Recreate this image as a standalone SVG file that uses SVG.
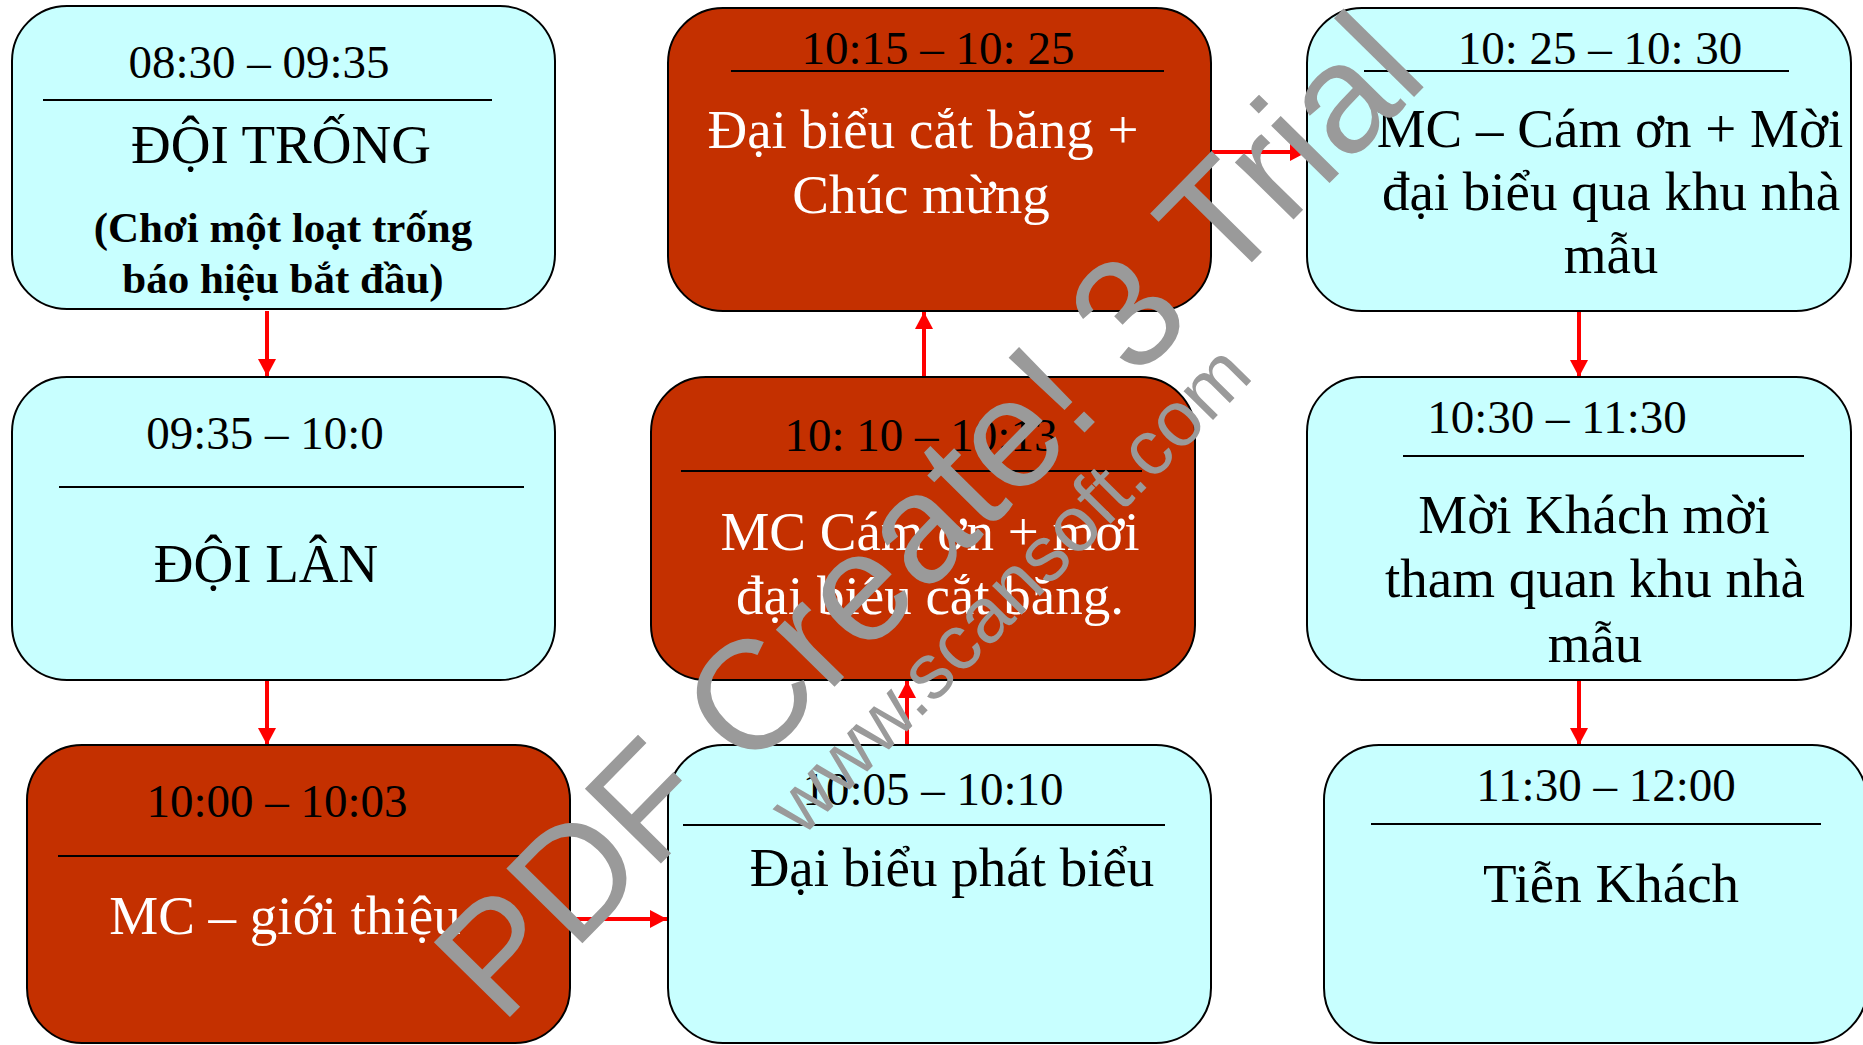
<svg xmlns="http://www.w3.org/2000/svg" width="1863" height="1045" viewBox="0 0 1863 1045">
<style>
.cy{fill:#C8FFFF;stroke:#000;stroke-width:2}
.rd{fill:#C43000;stroke:#000;stroke-width:2}
.rule{stroke:#000;stroke-width:2}
.t{font-family:"Liberation Serif","Times New Roman",serif;text-anchor:middle}
.tm{font-size:47px;fill:#000}
.bd{font-size:55px;fill:#000}
.bw{font-size:55px;fill:#fff}
.bb{font-size:43px;font-weight:bold;fill:#000}
.cn{stroke:#FF0000;stroke-width:4;fill:none;marker-end:url(#ah)}
.wm{font-family:"Liberation Sans",Arial,sans-serif;fill:#9A9A9A}
</style>
<defs>
<marker id="ah" markerUnits="userSpaceOnUse" markerWidth="18" markerHeight="18" refX="17" refY="9" orient="auto">
<path d="M0,0 L17,9 L0,18 Z" fill="#FF0000"/>
</marker>
</defs>
<rect width="1863" height="1045" fill="#fff"/>

<g id="connectors">
<line class="cn" x1="267" y1="311" x2="267" y2="376"/>
<line class="cn" x1="267" y1="681" x2="267" y2="745"/>
<line class="cn" x1="571" y1="919" x2="667" y2="919"/>
<line class="cn" x1="907" y1="745" x2="907" y2="681"/>
<line class="cn" x1="924" y1="376" x2="924" y2="312"/>
<line class="cn" x1="1211" y1="152" x2="1307" y2="152"/>
<line class="cn" x1="1579" y1="311" x2="1579" y2="377"/>
<line class="cn" x1="1579" y1="680" x2="1579" y2="745"/>
</g>

<g id="n1">
<rect class="cy" x="12" y="6" width="543" height="303" rx="55"/>
<text class="t tm" x="259" y="78">08:30 – 09:35</text>
<line class="rule" x1="43" y1="100" x2="492" y2="100"/>
<text class="t bd" x="281" y="163">ĐỘI TRỐNG</text>
<text class="t bb" x="283" y="242">(Chơi một loạt trống</text>
<text class="t bb" x="283" y="293">báo hiệu bắt đầu)</text>
</g>

<g id="n2">
<rect class="cy" x="12" y="377" width="543" height="303" rx="55"/>
<text class="t tm" x="265" y="449">09:35 – 10:0</text>
<line class="rule" x1="59" y1="487" x2="524" y2="487"/>
<text class="t bd" x="266" y="582">ĐỘI LÂN</text>
</g>

<g id="n3">
<rect class="rd" x="27" y="745" width="543" height="298" rx="55"/>
<text class="t tm" x="277" y="817">10:00 – 10:03</text>
<line class="rule" x1="58" y1="856" x2="524" y2="856"/>
<text class="t bw" x="285" y="934">MC – giới thiệu</text>
</g>

<g id="n4">
<rect class="rd" x="668" y="8" width="543" height="303" rx="55"/>
<text class="t tm" x="938" y="64">10:15 – 10: 25</text>
<line class="rule" x1="731" y1="71" x2="1164" y2="71"/>
<text class="t bw" x="923" y="148">Đại biểu cắt băng +</text>
<text class="t bw" x="921" y="213">Chúc mừng</text>
</g>

<g id="n5">
<rect class="rd" x="651" y="377" width="544" height="303" rx="55"/>
<text class="t tm" x="921" y="451">10: 10 – 10:13</text>
<line class="rule" x1="681" y1="471" x2="1142" y2="471"/>
<text class="t bw" x="930" y="550">MC Cám ơn + mời</text>
<text class="t bw" x="930" y="614">đại biểu cắt băng.</text>
</g>

<g id="n6">
<rect class="cy" x="668" y="745" width="543" height="298" rx="55"/>
<text class="t tm" x="933" y="805">10:05 – 10:10</text>
<line class="rule" x1="683" y1="825" x2="1165" y2="825"/>
<text class="t bd" x="952" y="886">Đại biểu phát biểu</text>
</g>

<g id="n7">
<rect class="cy" x="1307" y="8" width="544" height="303" rx="55"/>
<text class="t tm" x="1600" y="64">10: 25 – 10: 30</text>
<line class="rule" x1="1364" y1="71" x2="1789" y2="71"/>
<text class="t bd" x="1610" y="147">MC – Cám ơn + Mời</text>
<text class="t bd" x="1611" y="210">đại biểu qua khu nhà</text>
<text class="t bd" x="1611" y="273">mẫu</text>
</g>

<g id="n8">
<rect class="cy" x="1307" y="377" width="544" height="303" rx="55"/>
<text class="t tm" x="1557" y="433">10:30 – 11:30</text>
<line class="rule" x1="1403" y1="456" x2="1804" y2="456"/>
<text class="t bd" x="1594" y="533">Mời Khách mời</text>
<text class="t bd" x="1595" y="597">tham quan khu nhà</text>
<text class="t bd" x="1595" y="662">mẫu</text>
</g>

<g id="n9">
<rect class="cy" x="1324" y="745" width="543" height="298" rx="55"/>
<text class="t tm" x="1606" y="801">11:30 – 12:00</text>
<line class="rule" x1="1371" y1="824" x2="1821" y2="824"/>
<text class="t bd" x="1611" y="902">Tiễn Khách</text>
</g>

<g id="watermark">
<text class="wm" font-size="155" text-anchor="middle" transform="translate(966,553) rotate(-45.5)">PDF Create! 3 Trial</text>
<text class="wm" font-size="78" transform="translate(802,838) rotate(-45.5)">www.scansoft.com</text>
</g>
</svg>
